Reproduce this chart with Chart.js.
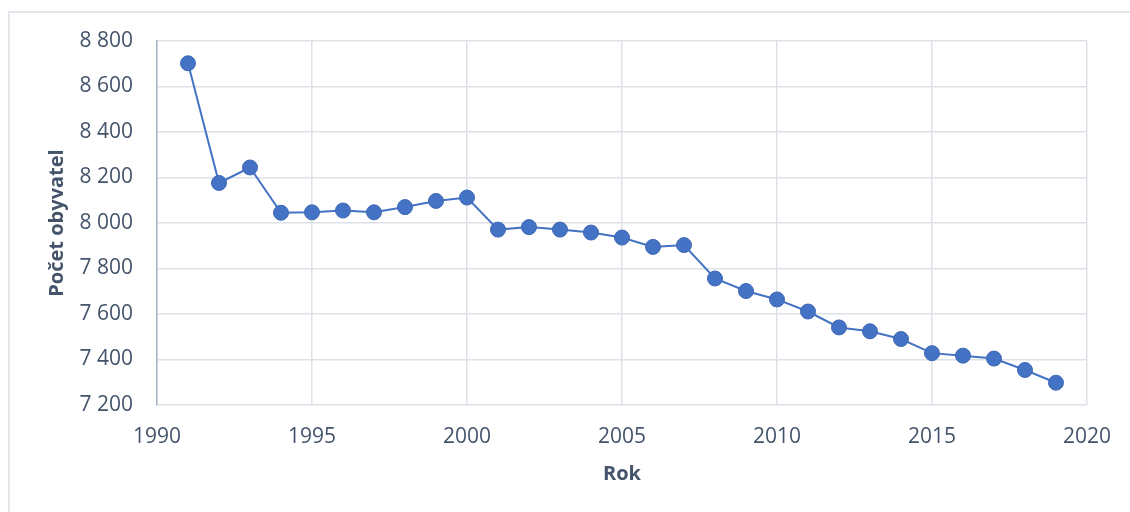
<!DOCTYPE html>
<html>
<head>
<meta charset="utf-8">
<script src="https://cdn.jsdelivr.net/npm/chart.js@4/dist/chart.umd.min.js"></script>
<style>
  html, body { margin: 0; padding: 0; background: #fff; }
  #wrap { position: relative; width: 1130px; height: 512px; }
  #frame {
    position: absolute; left: 8px; top: 11px; width: 1130px; height: 520px;
    border: 2px solid #e3e6ea; box-sizing: border-box; pointer-events: none;
  }
</style>
</head>
<body>
<div id="wrap">
  <canvas id="popChart" width="1130" height="512"></canvas>
  <div id="frame"></div>
</div>
<script>
// years and population
const years = [1991, 1992, 1993, 1994, 1995, 1996, 1997, 1998, 1999, 2000,
  2001, 2002, 2003, 2004, 2005, 2006, 2007, 2008, 2009, 2010,
  2011, 2012, 2013, 2014, 2015, 2016, 2017, 2018, 2019];
const population = [8702, 8176, 8244, 8045, 8047, 8055, 8047, 8070, 8097, 8112,
  7971, 7982, 7971, 7958, 7936, 7895, 7903, 7756, 7701, 7664,
  7611, 7541, 7524, 7490, 7428, 7417, 7404, 7354, 7298];
const xTicks = [1990, 1995, 2000, 2005, 2010, 2015, 2020];
const yTicks = [7200, 7400, 7600, 7800, 8000, 8200, 8400, 8600, 8800];

const textColor = '#44546a';
const gridColor = '#dde1e8';
const font = 'Open Sans';

const ctx = document.getElementById('popChart').getContext('2d');
const popChart = new Chart(ctx, {
  type: 'line',
  data: {
    datasets: [{
      label: 'Počet obyvatel',
      data: years.map((y, i) => ({ x: y, y: population[i] })),
      borderColor: '#4472c4',
      borderWidth: 2,
      backgroundColor: '#4472c4',
      pointBackgroundColor: '#4472c4',
      pointBorderColor: '#3d67b3',
      pointBorderWidth: 1,
      pointRadius: 7.5,
      tension: 0
    }]
  },
  options: {
    responsive: false,
    animation: false,
    layout: { padding: { top: 41, right: 41, bottom: 0, left: 0 } },
    plugins: { legend: { display: false }, tooltip: { enabled: false } },
    scales: {
      x: {
        type: 'linear',
        min: 1990,
        max: 2020,
        afterBuildTicks: (scale) => { scale.ticks = xTicks.map(v => ({ value: v })); },
        afterFit: (scale) => { scale.height = 107; },
        grid: { color: gridColor, lineWidth: 1.5, drawTicks: false },
        border: { display: false },
        ticks: {
          color: textColor,
          font: { family: font, size: 21 },
          padding: 19,
          maxRotation: 0,
          callback: (v) => String(v)
        },
        title: {
          display: true,
          text: 'Rok',
          color: textColor,
          font: { family: font, size: 20, weight: 'bold' },
          padding: { top: 0, bottom: 26 }
        }
      },
      y: {
        min: 7200,
        max: 8800,
        afterBuildTicks: (scale) => { scale.ticks = yTicks.map(v => ({ value: v })); },
        afterFit: (scale) => { scale.width = 157; },
        grid: { color: gridColor, lineWidth: 1.5, drawTicks: false },
        border: { display: true, color: '#a9b5c8', width: 1.5 },
        ticks: {
          color: textColor,
          font: { family: font, size: 21 },
          padding: 24,
          callback: (v) => String(v).replace(/\B(?=(\d{3})+(?!\d))/g, ' ')
        },
        title: {
          display: true,
          text: 'Počet obyvatel',
          color: textColor,
          font: { family: font, size: 20, weight: 'bold' },
          padding: { top: 45, bottom: 0 }
        }
      }
    }
  }
});
</script>
</body>
</html>
